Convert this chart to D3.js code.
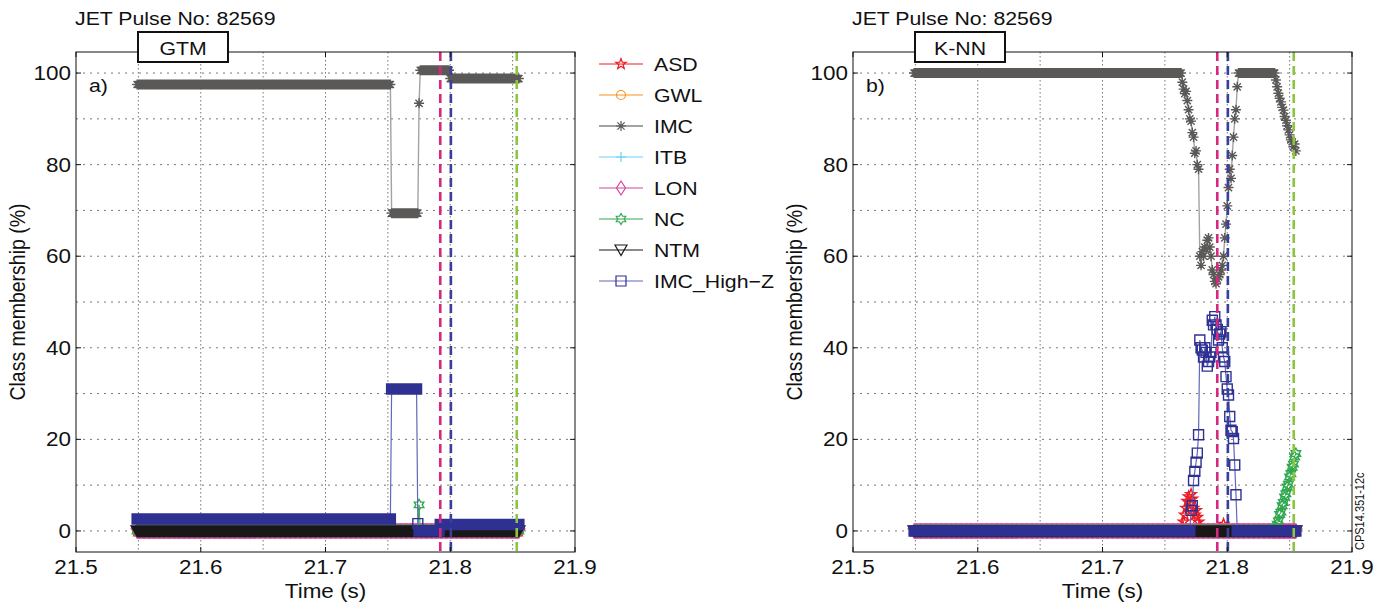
<!DOCTYPE html>
<html>
<head>
<meta charset="utf-8">
<script src="https://cdn.jsdelivr.net/npm/d3@7"></script>
<style>
  body { margin: 0; background: #fff; }
  text { font-family: "Liberation Sans", Arial, Helvetica, sans-serif; fill: #111; }
</style>
</head>
<body>
<svg id="chart" width="1387" height="610"></svg>
<script>
// ---- sampling grid: one classifier output per millisecond ----
const tStart = 21.549;
const tStep = 0.001;
const nSamples = 307;

const classNames = ["ASD", "GWL", "IMC", "ITB", "LON", "NC", "NTM", "IMC_High\u2212Z"];
const xTicks = [21.5, 21.6, 21.7, 21.8, 21.9];
const yTicks = [0, 20, 40, 60, 80, 100];
const xGrid = [21.55, 21.6, 21.65, 21.7, 21.75, 21.8, 21.85];
const yGrid = [0, 10, 20, 30, 40, 50, 60, 70, 80, 90, 100];
// disruption-related event times (dashed markers)
const eventTimes = [21.792, 21.8005, 21.8533];

// Series are written as samples: a bare number is one sample,
// [value, n] is the same value held for n consecutive samples.

// ---- GTM classifier ----
const gtmASD = [[0, 307]];
const gtmGWL = [[0, 307]];
const gtmIMC = [[97.5, 204], [69.4, 22], 93.4, [100.6, 24], [98.8, 56]];
const gtmITB = [[0, 307]];
const gtmLON = [[0, 307]];
const gtmNC = [[0, 226], 5.7, [0, 80]];
const gtmNTM = [[0, 307]];
const gtmHighZ = [[2.6, 204], [31, 21], 1.6, [0, 17], [1.4, 64]];

// ---- K-NN classifier ----
const knnASD = [[0, 215], 1, 2, 3.5, 5, 6.5, 7.5, 6, 8, 7, 5, 3.5, 4.5, 3, 2, 1, 0.5,
  [0, 17], 1.5, [0, 58]];
const knnGWL = [[0, 307]];
const knnIMC = [[100, 215],
  98, 96.5, 95.5, 96, 94, 92, 90, 89.5, 87, 86, 82.5, 83, 80, 79,
  60, 58, 61, 60, 62, 61.5, 63.5, 64, 62, 60, 57, 56, 54.5, 54, 55, 55.5, 56, 57, 58, 60,
  64, 67, 71, 75, 79, 77, 82, 86, 90, 92, 97,
  [100, 30],
  98.5, 97, 95.6, 94.5, 93.7, 92.5, 91.9, 90.5, 89.7, 88.5, 87.6, 86.5, 85.4, 85, 83.9, 84.5, 83];
const knnITB = [[0, 307]];
const knnLON = [[0, 307]];
const knnNC = [[0, 290], 0.8, 1.5, 2.2, 3.6, 4.1, 5.5, 6.2, 7.4, 8.1, 9.6, 10.2, 11.8, 12.5,
  13.9, 14.6, 16.2, 16.9];
const knnNTM = [[0, 307]];
const knnHighZ = [[0, 222], 4.5, 5.5,
  11, 13, 15, 17, 21, 41.7, 40, 39.5, 38, 40, 39, 36, 37, 38, 39, 46, 45, 46.8, 45, 44,
  41.7, 43, 43.5, 40, 38, 37, 33.7, 31, 29.7, 25, 22, 21.7, 20.2, 14.4, 7.9,
  [0, 48]];

// ---- styling per class ----
const styles = [
  { marker: "pentagram", color: "#ec1c24", line: "#ec1c24", lw: 1 },
  { marker: "circle",    color: "#f7941d", line: "#f7941d", lw: 1 },
  { marker: "asterisk",  color: "#5b5957", line: "#a3a3a3", lw: 1.4 },
  { marker: "plus",      color: "#6dcff6", line: "#6dcff6", lw: 1 },
  { marker: "diamond",   color: "#d4449c", line: "#d4449c", lw: 1 },
  { marker: "hexagram",  color: "#2fa84f", line: "#2fa84f", lw: 1 },
  { marker: "triangle",  color: "#1a1718", line: "#1a1718", lw: 1 },
  { marker: "square",    color: "#2e3192", line: "#6367b8", lw: 1.2 }
];

const SX = 1.15;   // horizontal stretch of lettering
const times = d3.range(nSamples).map(i => tStart + i * tStep);
const expand = s => s.flatMap(d => Array.isArray(d) ? Array(d[1]).fill(d[0]) : [d]);

function polyStar(x, y, n, ro, ri) {
  let p = "";
  for (let k = 0; k < 2 * n; k++) {
    const a = -Math.PI / 2 + k * Math.PI / n;
    const r = k % 2 ? ri : ro;
    p += (k ? "L" : "M") + (x + r * Math.cos(a)).toFixed(2) + "," + (y + r * Math.sin(a)).toFixed(2);
  }
  return p + "Z";
}
const markerPath = {
  pentagram: (x, y) => polyStar(x, y, 5, 5.5, 2.2),
  circle: (x, y) => `M${x - 4.5},${y}a4.5,4.5 0 1,0 9,0a4.5,4.5 0 1,0 -9,0`,
  asterisk: (x, y) => `M${x - 5},${y}H${x + 5}M${x},${y - 5}V${y + 5}M${x - 3.6},${y - 3.6}L${x + 3.6},${y + 3.6}M${x - 3.6},${y + 3.6}L${x + 3.6},${y - 3.6}`,
  plus: (x, y) => `M${x - 5},${y}H${x + 5}M${x},${y - 5}V${y + 5}`,
  diamond: (x, y) => `M${x},${y - 7}L${x + 4.5},${y}L${x},${y + 7}L${x - 4.5},${y}Z`,
  hexagram: (x, y) => polyStar(x, y, 6, 5.5, 3.2),
  triangle: (x, y) => `M${x - 6},${y - 5}H${x + 6}L${x},${y + 5.5}Z`,
  square: (x, y) => `M${x - 5},${y - 5}h10v10h-10Z`
};

const svg = d3.select("#chart");
svg.append("rect").attr("width", 1387).attr("height", 610).attr("fill", "#fff");

function label(g, x, y, s, size, anchor, rotate) {
  return g.append("text")
    .attr("transform", `translate(${x},${y}) scale(${SX},1)` + (rotate ? ` rotate(${rotate})` : ""))
    .attr("font-size", size)
    .attr("text-anchor", anchor || "start")
    .text(s);
}

const plotTop = 52, plotBottom = 552, plotWidth = 499;
const panels = [
  { left: 76, title: "GTM", tag: "a)",
    series: [gtmASD, gtmGWL, gtmIMC, gtmITB, gtmLON, gtmNC, gtmNTM, gtmHighZ] },
  { left: 853, title: "K-NN", tag: "b)",
    series: [knnASD, knnGWL, knnIMC, knnITB, knnLON, knnNC, knnNTM, knnHighZ] }
];

panels.forEach(p => {
  const g = svg.append("g");
  const x = d3.scaleLinear().domain([21.5, 21.9]).range([p.left, p.left + plotWidth]);
  const y = d3.scaleLinear().domain([-4.6, 104.6]).range([plotBottom, plotTop]);

  // grid
  g.append("g").selectAll("line").data(xGrid).join("line")
    .attr("x1", d => x(d)).attr("x2", d => x(d))
    .attr("y1", plotTop).attr("y2", plotBottom)
    .attr("stroke", "#777").attr("stroke-width", 1).attr("stroke-dasharray", "1.5,2.5");
  g.append("g").selectAll("line").data(yGrid).join("line")
    .attr("x1", p.left).attr("x2", p.left + plotWidth)
    .attr("y1", d => y(d)).attr("y2", d => y(d))
    .attr("stroke", "#777").attr("stroke-width", 1).attr("stroke-dasharray", "2,5");

  // class membership series, drawn in legend order
  const line = d3.line().x((d, i) => x(times[i])).y(d => y(d));
  p.series.forEach((s, k) => {
    const vals = expand(s);
    const st = styles[k];
    g.append("path").attr("d", line(vals)).attr("fill", "none")
      .attr("stroke", st.line).attr("stroke-width", st.lw);
    const mk = markerPath[st.marker];
    g.append("path")
      .attr("d", vals.map((v, i) => mk(x(times[i]), y(v))).join(""))
      .attr("fill", "none").attr("stroke", st.color).attr("stroke-width", 1.4);
  });

  // event markers
  const evColors = ["#d6287d", "#3a3e9c", "#8cc63f"];
  g.append("g").selectAll("line").data(eventTimes).join("line")
    .attr("x1", d => x(d)).attr("x2", d => x(d))
    .attr("y1", plotTop).attr("y2", plotBottom)
    .attr("stroke", (d, i) => evColors[i]).attr("stroke-width", 2.6)
    .attr("stroke-dasharray", "9,5");

  // frame and ticks
  g.append("rect").attr("x", p.left).attr("y", plotTop)
    .attr("width", plotWidth).attr("height", plotBottom - plotTop)
    .attr("fill", "none").attr("stroke", "#111").attr("stroke-width", 1);
  const tk = g.append("g").attr("stroke", "#111").attr("stroke-width", 1);
  xTicks.forEach(t => {
    tk.append("line").attr("x1", x(t)).attr("x2", x(t)).attr("y1", plotBottom).attr("y2", plotBottom - 5);
    tk.append("line").attr("x1", x(t)).attr("x2", x(t)).attr("y1", plotTop).attr("y2", plotTop + 5);
  });
  yTicks.forEach(v => {
    tk.append("line").attr("x1", p.left).attr("x2", p.left + 5).attr("y1", y(v)).attr("y2", y(v));
    tk.append("line").attr("x1", p.left + plotWidth).attr("x2", p.left + plotWidth - 5).attr("y1", y(v)).attr("y2", y(v));
  });

  // tick labels
  xTicks.forEach(t => label(g, x(t), 574, d3.format(".1f")(t), 19.5, "middle"));
  yTicks.forEach(v => label(g, p.left - 5, y(v) + 7, String(v), 19.5, "end"));

  // axis titles
  label(g, p.left + plotWidth / 2, 598, "Time (s)", 19.5, "middle");
  label(g, p.left - 51, (plotTop + plotBottom) / 2, "Class membership (%)", 19.5, "middle", -90);

  // headings
  label(g, p.left - 1, 25, "JET Pulse No: 82569", 18.5, "start");
  g.append("rect").attr("x", p.left + 62).attr("y", 32).attr("width", 90).attr("height", 30)
    .attr("fill", "#fff").attr("stroke", "#111").attr("stroke-width", 2);
  label(g, p.left + 107, 55, p.title, 18.5, "middle");
  label(g, p.left + 13, 92, p.tag, 18.5, "start");
});

// legend
const lg = svg.append("g");
classNames.forEach((name, k) => {
  const yy = 64 + k * 31;
  const st = styles[k];
  lg.append("line").attr("x1", 599).attr("x2", 643).attr("y1", yy).attr("y2", yy)
    .attr("stroke", st.line).attr("stroke-width", k === 2 ? 2.2 : 1.2);
  lg.append("path").attr("d", markerPath[st.marker](621, yy))
    .attr("fill", "none").attr("stroke", st.color).attr("stroke-width", 1.2);
  label(lg, 654, yy + 6.5, name, 18.5, "start");
});

// figure reference
label(svg, 1364, 550, "CPS14.351-12c", 11, "start", -90);
</script>
</body>
</html>
